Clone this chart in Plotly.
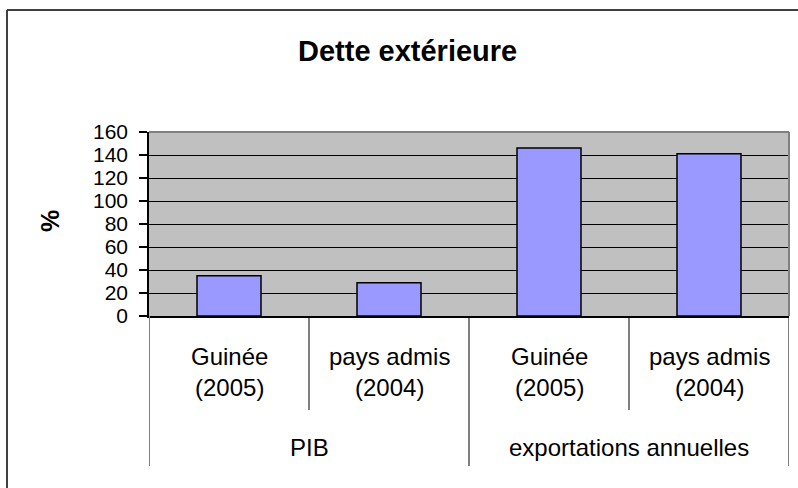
import plotly.graph_objects as go

# Data
groups = ["PIB", "PIB", "exportations annuelles", "exportations annuelles"]
subcats = ["Guinée<br>(2005)", "pays admis<br>(2004)", "Guinée<br>(2005)", "pays admis<br>(2004)"]
values = [35, 29, 146, 141]
y_ticks = [0, 20, 40, 60, 80, 100, 120, 140, 160]
title_text = "Dette extérieure"
y_title = "%"

FONT = "Liberation Sans, Arial, sans-serif"
W, H = 798, 488
L, R, T, B = 149, 9, 132, 172
PH = H - T - B  # plot height in px


def py(p):
    """pixel y -> paper y"""
    return (H - B - p) / PH


def px(p):
    return (p - L) / (W - L - R)


xs = list(range(len(values)))

fig = go.Figure()
fig.add_trace(go.Bar(
    x=xs, y=values, width=0.4,
    marker=dict(color="#9999FF", line=dict(color="#000000", width=1.5)),
    hoverinfo="y",
))

annotations = []
shapes = []

# sub-category labels
for i, s in enumerate(subcats):
    annotations.append(dict(x=i, y=py(371.5), xref="x", yref="paper", text=s,
                            showarrow=False, yanchor="middle", xanchor="center",
                            font=dict(family=FONT, size=24, color="#000000")))

# group labels and separators
uniq = []
for g in groups:
    if g not in uniq:
        uniq.append(g)
for g in uniq:
    idx = [i for i, gg in enumerate(groups) if gg == g]
    annotations.append(dict(x=sum(idx) / len(idx), y=py(447), xref="x", yref="paper", text=g,
                            showarrow=False, yanchor="middle", xanchor="center",
                            font=dict(family=FONT, size=24, color="#000000")))

for i in range(len(values) + 1):
    full = (i == 0 or i == len(values) or groups[i] != groups[i - 1])
    shapes.append(dict(type="line", xref="x", yref="paper", x0=i - 0.5, x1=i - 0.5,
                       y0=0, y1=py(466) if full else py(410),
                       line=dict(color="#000000" if i else "#808080", width=1 if i else 2)))

# plot area top/right grey border
shapes.append(dict(type="line", xref="paper", yref="paper", x0=0, x1=1, y0=1, y1=1,
                   line=dict(color="#808080", width=2)))
shapes.append(dict(type="line", xref="paper", yref="paper", x0=1, x1=1, y0=0, y1=1,
                   line=dict(color="#808080", width=2)))
# outer chart border (left/top visible)
shapes.append(dict(type="line", xref="paper", yref="paper", x0=px(7), x1=px(W + 5),
                   y0=py(10), y1=py(10), line=dict(color="#404040", width=2)))
shapes.append(dict(type="line", xref="paper", yref="paper", x0=px(7), x1=px(7),
                   y0=py(10), y1=py(H + 5), line=dict(color="#404040", width=2)))

# title and y title
annotations.append(dict(x=px(407), y=py(51), xref="paper", yref="paper", text="<b>%s</b>" % title_text,
                        showarrow=False, xanchor="center", yanchor="middle",
                        font=dict(family=FONT, size=29, color="#000000")))
annotations.append(dict(x=px(50), y=py(221), xref="paper", yref="paper", text="<b>%s</b>" % y_title,
                        showarrow=False, xanchor="center", yanchor="middle", textangle=-90,
                        font=dict(family=FONT, size=25, color="#000000")))

fig.update_layout(
    width=W, height=H,
    margin=dict(l=L, r=R, t=T, b=B, pad=0),
    paper_bgcolor="#FFFFFF", plot_bgcolor="#C0C0C0",
    showlegend=False,
    bargap=0.6,
    annotations=annotations, shapes=shapes,
    font=dict(family=FONT, color="#000000"),
)
fig.update_xaxes(range=[-0.5, len(values) - 0.5], showticklabels=False, showgrid=False,
                 zeroline=False, showline=True, linecolor="#000000", linewidth=1.5, ticks="",
                 fixedrange=True)
fig.update_yaxes(range=[0, 160], tickvals=y_ticks, ticktext=[str(v) for v in y_ticks],
                 showgrid=True, gridcolor="#000000", gridwidth=1, zeroline=False,
                 showline=True, linecolor="#000000", linewidth=1.5,
                 ticks="outside", ticklen=8, tickcolor="#000000", tickwidth=1.5,
                 ticklabelstandoff=7,
                 tickfont=dict(family=FONT, size=21, color="#000000"), fixedrange=True)

fig.write_html("out.html", config={"displayModeBar": False},
               post_script="document.body.style.margin='0';document.body.style.overflow='hidden';")
